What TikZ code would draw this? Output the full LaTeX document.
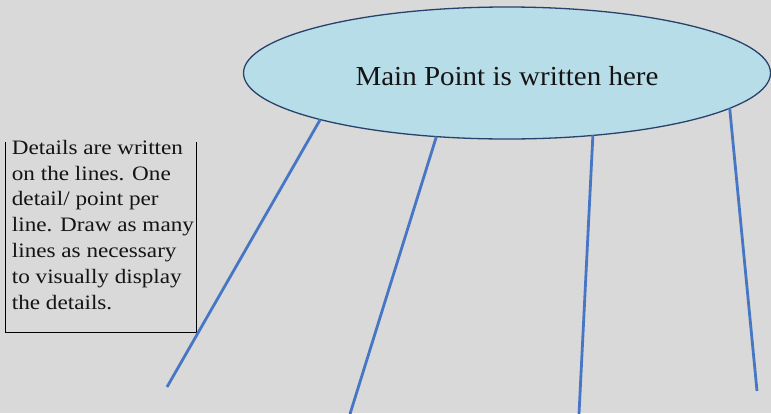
\documentclass[tikz,border=0pt]{standalone}
\usepackage{fontspec}
\setmainfont{Liberation Serif}
\usetikzlibrary{shapes.geometric}
\definecolor{bggray}{RGB}{217,217,217}
\definecolor{ellfill}{RGB}{183,221,232}
\definecolor{elldraw}{RGB}{40,66,108}
\definecolor{lineblue}{RGB}{70,118,196}
\definecolor{txt}{RGB}{20,20,20}
\tikzset{
  mainellipse/.style={ellipse, draw=elldraw, fill=ellfill, line width=1.3pt,
    minimum width=527pt, minimum height=132pt, inner sep=0pt, outer sep=0pt},
  maintxt/.style={text=txt, font=\fontsize{27.5}{32}\selectfont, inner sep=0pt},
  detailline/.style={draw=lineblue, line width=2.8pt},
  boxtxt/.style={text=txt, font=\fontsize{20.5}{25.8}\selectfont, inner sep=0pt, anchor=north west},
  boxedge/.style={draw=black, line width=0.8pt}
}
\begin{document}
\begin{tikzpicture}[x=1pt,y=-1pt]
\path[fill=bggray,use as bounding box] (0,0) rectangle (771,413);
% details box
\node[boxtxt] (details) at (11.7,136) {\scalebox{1.13}[1]{\begin{tabular}[t]{@{}l@{}}Details are written\\on the lines. One\\detail/ point per\\line. Draw as many\\lines as necessary\\to visually display\\the details.\end{tabular}}};
\coordinate (btl) at (5,142);
\coordinate (bbl) at (5,332);
\coordinate (bbr) at (196,332);
\coordinate (btr) at (196,142);
\draw[boxedge] (btl) -- (bbl) -- (bbr) -- (btr);
% main ellipse
\node[mainellipse] (main) at (507,73) {};
\node[maintxt] (maintext) at (507,76) {\scalebox{1.055}[1]{Main Point is written here}};
% line end points
\coordinate (e1) at (167,387);
\coordinate (e2) at (350,414);
\coordinate (e3) at (579,414);
\coordinate (e4) at (757,391);
\draw[detailline] (main.194.25) -- (e1);
\draw[detailline] (main.222.3) -- (e2);
\draw[detailline] (main.324.4) -- (e3);
\draw[detailline] (main.351.6) -- (e4);
\end{tikzpicture}
\end{document}
